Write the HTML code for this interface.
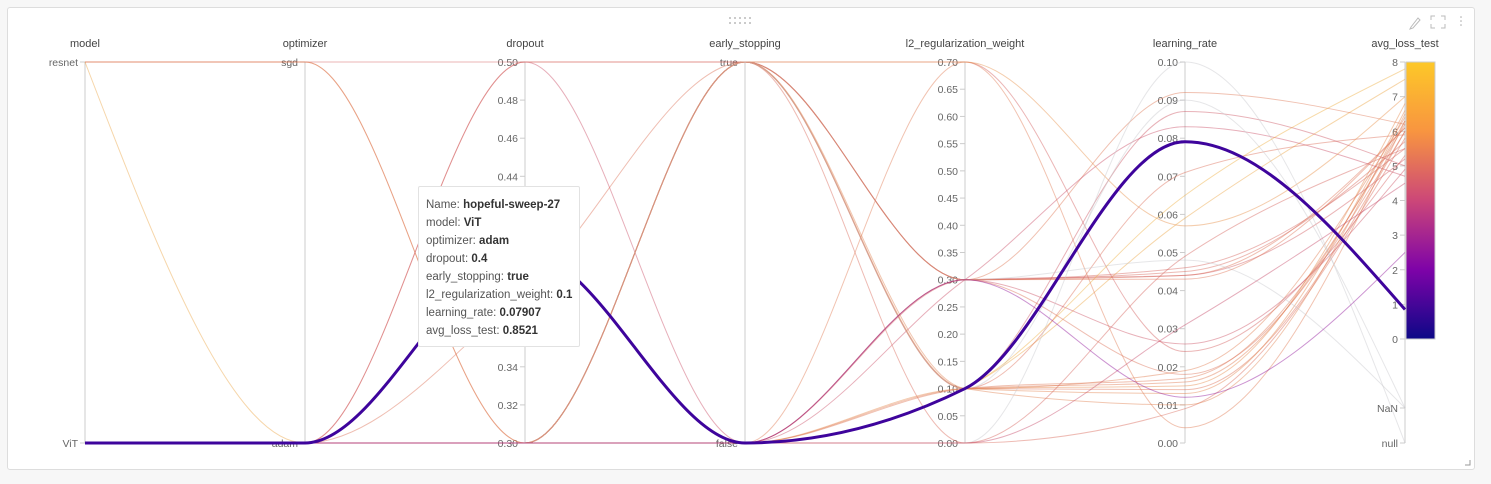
<!DOCTYPE html>
<html><head><meta charset="utf-8">
<style>
html,body{margin:0;padding:0;background:#f7f7f7;width:1491px;height:484px;overflow:hidden;font-family:"Liberation Sans",sans-serif}
#panel{position:absolute;left:7px;top:7px;width:1466px;height:461px;background:#fff;border:1px solid #ddd;border-radius:3px}
#tip{position:absolute;left:418px;top:186px;width:162px;height:161px;background:#fff;border:1px solid #e2e2e2;border-radius:2px;box-sizing:border-box;padding:9px 0 0 7px;font-size:11.5px;color:#555;line-height:18px}
#tip b{color:#333}
</style></head><body>
<div id="panel"></div>
<svg id="chart" width="1491" height="484" style="position:absolute;left:0;top:0"></svg>
<div id="tip">
<div>Name: <b>hopeful-sweep-27</b></div>
<div>model: <b>ViT</b></div>
<div>optimizer: <b>adam</b></div>
<div>dropout: <b>0.4</b></div>
<div>early_stopping: <b>true</b></div>
<div>l2_regularization_weight: <b>0.1</b></div>
<div>learning_rate: <b>0.07907</b></div>
<div>avg_loss_test: <b>0.8521</b></div>
</div>
<script>
const axesNames=["model","optimizer","dropout","early_stopping","l2_regularization_weight","learning_rate","avg_loss_test"];
const model=["resnet","resnet","resnet","resnet","ViT","ViT","ViT","ViT","ViT","ViT","ViT","ViT","ViT","ViT","ViT","ViT","ViT","ViT","ViT","ViT","ViT","ViT","ViT","ViT","ViT","ViT","ViT","ViT","ViT","ViT"];
const optimizer=["sgd","adam","sgd","sgd","adam","adam","adam","adam","adam","adam","adam","adam","adam","adam","adam","adam","adam","adam","adam","adam","adam","adam","adam","adam","adam","adam","adam","adam","adam","adam"];
const dropout=[0.5,0.3,0.3,0.3,0.5,0.38,0.5,0.3,0.3,0.3,0.3,0.3,0.3,0.3,0.3,0.3,0.3,0.3,0.3,0.3,0.3,0.3,0.3,0.3,0.3,0.3,0.3,0.3,0.3,0.3];
const early=["true","false","true","true","false","true","true","false","true","true","true","true","true","false","false","false","false","true","true","false","false","false","true","false","true","false","false","true","false","false"];
const l2=[0.7,0.1,0.3,0.1,0.3,0.1,0.0,0.7,0.3,0.3,0.1,0.1,0.1,0.3,0.3,0.1,0.1,0.3,0.7,0.1,0.0,0.3,0.1,0.1,0.3,0.0,0.1,0.3,0.0,0.3];
const lr=[0.024,0.059,0.092,0.019,0.083,0.014,0.009,0.004,0.046,0.044,0.071,0.01,0.013,0.044,0.026,0.017,0.015,0.045,0.057,0.087,0.1,0.018,0.09,0.016,0.048,0.049,0.065,0.043,0.031,0.012];
const loss=[5.3,7.5,6.2,6.4,4.7,6.0,5.8,6.3,5.5,6.1,5.9,6.5,6.6,5.2,4.9,6.2,6.8,5.7,7.0,5.0,null,6.0,"NaN",6.3,"NaN",5.5,7.8,6.1,4.5,2.5];
const hl={model:"ViT",optimizer:"adam",dropout:0.4,early:"false",l2:0.1,lr:0.07907,loss:0.8521};

const svg=document.getElementById('chart');
const NS="http://www.w3.org/2000/svg";
const AX=[85,305,525,745,965,1185,1405];
const TOP=62,BOT=443;
function lin(v,a,b){return BOT-(v-a)/(b-a)*(BOT-TOP);}
const yModel=v=>v==="resnet"?TOP:BOT;
const yOpt=v=>v==="sgd"?TOP:BOT;
const yDrop=v=>lin(v,0.3,0.5);
const yEarly=v=>v==="true"?TOP:BOT;
const yL2=v=>lin(v,0,0.7);
const yLr=v=>lin(v,0,0.1);
const LOSS0=339;
function yLoss(v){if(v===null)return 443;if(v==="NaN")return 408;return LOSS0-(v/8)*(LOSS0-TOP);}
const stops=[[0,[13,8,135]],[0.25,[126,3,168]],[0.5,[190,60,110]],[0.75,[220,110,85]],[1,[240,180,60]]];
function col(v){if(v===null||v==="NaN")return "rgb(200,200,205)";let t=Math.max(0,Math.min(1,v/8));for(let i=1;i<stops.length;i++){if(t<=stops[i][0]){const [a,ca]=stops[i-1],[b,cb]=stops[i];const f=(t-a)/(b-a);return "rgb("+ca.map((c,k)=>Math.round(c+(cb[k]-c)*f)).join(",")+")";}}return "rgb(240,180,60)";}
function el(t,a,p){const e=document.createElementNS(NS,t);for(const k in a)e.setAttribute(k,a[k]);(p||svg).appendChild(e);return e;}
function sign(x){return x<0?-1:1;}
function pathD(ys){
 const n=ys.length,t=new Array(n);
 for(let i=1;i<n-1;i++){
  const h0=AX[i]-AX[i-1],h1=AX[i+1]-AX[i];
  const s0=(ys[i]-ys[i-1])/h0,s1=(ys[i+1]-ys[i])/h1;
  const p=(s0*h1+s1*h0)/(h0+h1);
  t[i]=(sign(s0)+sign(s1))*Math.min(Math.abs(s0),Math.abs(s1),0.5*Math.abs(p))||0;
 }
 t[0]=(3*(ys[1]-ys[0])/(AX[1]-AX[0])-t[1])/2;
 t[n-1]=(3*(ys[n-1]-ys[n-2])/(AX[n-1]-AX[n-2])-t[n-2])/2;
 let d="M"+AX[0]+","+ys[0];
 for(let i=1;i<n;i++){
  const dx=(AX[i]-AX[i-1])/3;
  d+=" C"+(AX[i-1]+dx)+","+(ys[i-1]+dx*t[i-1])+" "+(AX[i]-dx)+","+(ys[i]-dx*t[i])+" "+AX[i]+","+ys[i];
 }
 return d;
}

const axG=el('g',{});


const tickSets=[
 [["resnet",TOP],["ViT",BOT]],
 [["sgd",TOP],["adam",BOT]],
 [0.5,0.48,0.46,0.44,0.42,0.40,0.38,0.36,0.34,0.32,0.30].map(v=>[v.toFixed(2),yDrop(v)]),
 [["true",TOP],["false",BOT]],
 [0,0.05,0.1,0.15,0.2,0.25,0.3,0.35,0.4,0.45,0.5,0.55,0.6,0.65,0.7].map(v=>[v.toFixed(2),yL2(v)]),
 [0,0.01,0.02,0.03,0.04,0.05,0.06,0.07,0.08,0.09,0.1].map(v=>[v.toFixed(2),yLr(v)]),
 [0,1,2,3,4,5,6,7,8].map(v=>[String(v),yLoss(v)]).concat([["NaN",408],["null",443]])
];
AX.forEach((x,i)=>{
 const l=el('line',{x1:x,y1:TOP,x2:x,y2:BOT,stroke:"#ddd","stroke-width":1.5},axG);
 
 
 const t=el('text',{x:x,y:47,"text-anchor":"middle","font-size":11,fill:"#444"},axG);t.textContent=axesNames[i];
 
 
 tickSets[i].forEach(([lab,y])=>{
  el('line',{x1:x-5,y1:y,x2:x,y2:y,stroke:"#ccc"},axG);
  const tt=el('text',{x:x-7,y:y+4,"text-anchor":"end","font-size":10.5,fill:"#666"},axG);tt.textContent=lab;
  
  
 });
});
const defs=el('defs',{});
const lg=el('linearGradient',{id:"cb",x1:0,y1:1,x2:0,y2:0},defs);
[[0,[13,8,135]],[0.25,[126,3,168]],[0.5,[204,71,120]],[0.75,[248,149,64]],[1,[253,200,40]]].forEach(([o,c])=>el('stop',{offset:o,"stop-color":"rgb("+c.join(",")+")"},lg));
const cb=el('rect',{x:1406,y:TOP,width:29,height:LOSS0-TOP,fill:"url(#cb)",stroke:"#ccc"});


const lg2=el('g',{fill:"none"});
for(let i=0;i<model.length;i++){
 const ys=[yModel(model[i]),yOpt(optimizer[i]),yDrop(dropout[i]),yEarly(early[i]),yL2(l2[i]),yLr(lr[i]),yLoss(loss[i])];
 const p=el('path',{d:pathD(ys),stroke:col(loss[i]),"stroke-width":1,"stroke-opacity":0.45},lg2);
 
 
}
const hy=[yModel(hl.model),yOpt(hl.optimizer),yDrop(hl.dropout),yEarly(hl.early),yL2(hl.l2),yLr(hl.lr),yLoss(hl.loss)];
const hp=el('path',{d:pathD(hy),stroke:"#3e049c","stroke-width":3,fill:"none"});


const ic=el('g',{fill:"none",stroke:"#bbb","stroke-width":1});


el('path',{d:"M1411,27 L1418,18 L1420,20 L1413,28 L1410,29 Z"},ic);
el('path',{d:"M1431,20 v-4 h4 M1441,16 h4 v4 M1445,24 v4 h-4 M1435,28 h-4 v-4"},ic);
[17,21,25].forEach(y=>el('circle',{cx:1461,cy:y,r:0.8,fill:"#aaa",stroke:"none"},ic));
[[730,18],[735,18],[740,18],[745,18],[750,18],[730,23],[735,23],[740,23],[745,23],[750,23]].forEach(([x,y])=>el('circle',{cx:x,cy:y,r:1,fill:"#bbb",stroke:"none"}));
el('path',{d:"M1465,465 h5 v-5",stroke:"#999",fill:"none"});
</script>
</body></html>
